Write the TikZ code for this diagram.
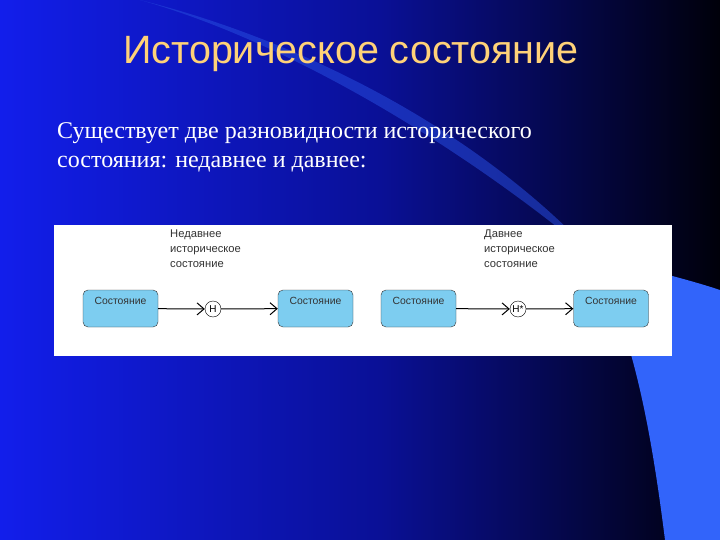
\documentclass[tikz,border=0pt]{standalone}
\usepackage{fontspec}
\setmainfont{Liberation Serif}
\newfontfamily\sansf{Liberation Sans}
\usetikzlibrary{arrows.meta}
\definecolor{bgA}{RGB}{18,30,235}
\definecolor{bgB}{RGB}{10,16,150}
\definecolor{bgC}{RGB}{0,0,10}
\definecolor{swoosh}{RGB}{50,100,250}
\definecolor{titlec}{RGB}{255,210,120}
\definecolor{statef}{RGB}{125,205,240}
\begin{document}
\begin{tikzpicture}[x=1pt,y=-1pt,
  state/.style={draw=black!80,fill=statef,rounded corners=5pt,minimum width=75pt,minimum height=37pt,inner sep=0pt},
  stxt/.style={font=\sansf\fontsize{10.4}{11}\selectfont,text=black!80},
  hist/.style={draw,circle,fill=white,minimum size=16pt,inner sep=0pt,font=\sansf\fontsize{10}{11}\selectfont},
  lbl/.style={font=\sansf\fontsize{11.2}{15}\selectfont,align=left,anchor=north west,text=black!80,inner sep=0pt},
  conn/.style={line width=1pt,-{Straight Barb[length=7pt,width=12pt,line width=1pt]},black}]
\useasboundingbox (0,0) rectangle (720,540);
\shade[left color=bgA,right color=bgB] (0,0) rectangle (380,540);
\shade[left color=bgB,right color=bgC] (380,0) rectangle (720,540);
% swooshes
\fill[swoosh] (590,255) .. controls (650,270) and (690,280) .. (720,290) -- (720,540) -- (665,540) .. controls (650,420) and (630,320) .. (590,255) -- cycle;
\fill[swoosh!70!bgB,opacity=0.55] (140,0) .. controls (300,40) and (480,130) .. (600,262) .. controls (480,160) and (300,45) .. (140,0) -- cycle;
\node[font=\sansf\fontsize{39.5}{44}\selectfont,text=titlec] (title) at (351,54) {Историческое состояние};
\node[font=\fontsize{24}{29}\selectfont,text=white,align=left,anchor=north west,inner sep=0pt] (body) at (57,122) {Существует две разновидности исторического\\состояния: недавнее и давнее:};
\node[fill=white,minimum width=618pt,minimum height=131pt,inner sep=0pt,anchor=north west] (panel) at (54,225) {};
\node[state] (s1) at (120.5,308.5) {};
\node[state] (s2) at (315.5,308.5) {};
\node[state] (s3) at (418.5,308.5) {};
\node[state] (s4) at (611,308.5) {};
\foreach \s in {s1,s2,s3,s4} \node[stxt,anchor=north] at ([yshift=-4pt]\s.north) {Состояние};
\node[hist] (h1) at (213,309) {H};
\node[hist] (h2) at (518,309) {H*};
\draw[conn] (s1) -- (h1);
\draw[conn] (h1) -- (s2);
\draw[conn] (s3) -- (h2);
\draw[conn] (h2) -- (s4);
\node[lbl] (l1) at (170,230) {Недавнее\\историческое\\состояние};
\node[lbl] (l2) at (484,230) {Давнее\\историческое\\состояние};
\end{tikzpicture}
\end{document}
